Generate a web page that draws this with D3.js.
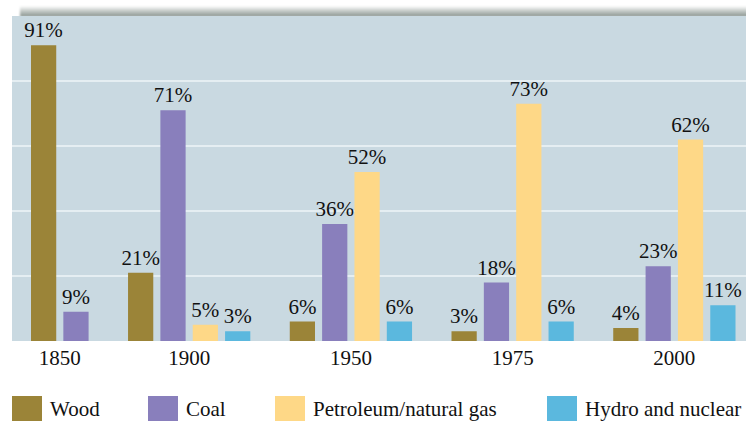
<!DOCTYPE html>
<html>
<head>
<meta charset="utf-8">
<script src="https://cdn.jsdelivr.net/npm/d3@7"></script>
<style>
  html, body { margin: 0; padding: 0; background: #ffffff; }
  svg { display: block; }
</style>
</head>
<body>
<svg id="chart" width="746" height="421"></svg>
<script>
// Share of U.S. energy consumption by source
const years = ["1850", "1900", "1950", "1975", "2000"];
const sources = ["Wood", "Coal", "Petroleum/natural gas", "Hydro and nuclear"];
const wood      = [91, 21, 6, 3, 4];
const coal      = [9, 71, 36, 18, 23];
const petroleum = [0, 5, 52, 73, 62];
const hydro     = [0, 3, 6, 6, 11];
const yTicks = [20, 40, 60, 80];
const colors = ["#9b8438", "#897fbc", "#fed887", "#5bb8de"];

const seriesValues = [wood, coal, petroleum, hydro];
const FONT = "'Liberation Serif', 'Times New Roman', Times, 'DejaVu Serif', serif";
const FONT_SIZE = 21;

const svg = d3.select("#chart").attr("font-family", FONT);
const W = 746, H = 421;
const plot = { left: 12, right: 746, top: 16, bottom: 341 };

// Bars: one slot per non-zero value, with an empty slot between year groups
const bars = [];
const slots = [];
years.forEach((yr, yi) => {
  if (yi > 0) slots.push("gap-" + yr);
  sources.forEach((s, si) => {
    const v = seriesValues[si][yi];
    if (v > 0) {
      const key = yr + "|" + s;
      slots.push(key);
      bars.push({ key, year: yr, source: s, si, value: v });
    }
  });
});

const x = d3.scaleBand()
  .domain(slots)
  .range([31, 735.5])
  .paddingInner(0.22)
  .paddingOuter(0);

const y = d3.scaleLinear().domain([0, 100]).range([plot.bottom, plot.top]);

// Soft grey band across the top of the panel
const defs = svg.append("defs");
const grad = defs.append("linearGradient").attr("id", "topShade")
  .attr("x1", 0).attr("y1", 0).attr("x2", 0).attr("y2", 1);
grad.append("stop").attr("offset", "0%").attr("stop-color", "#ffffff");
grad.append("stop").attr("offset", "45%").attr("stop-color", "#c3c9c6");
grad.append("stop").attr("offset", "100%").attr("stop-color", "#87928d");
defs.append("filter").attr("id", "soft").attr("x", "-5%").attr("width", "110%")
  .append("feGaussianBlur").attr("stdDeviation", 1.2);

svg.append("rect")
  .attr("x", 20).attr("y", 6).attr("width", W - 16).attr("height", 11)
  .attr("fill", "url(#topShade)")
  .attr("filter", "url(#soft)");

// Panel background
svg.append("rect")
  .attr("x", plot.left).attr("y", plot.top)
  .attr("width", plot.right - plot.left).attr("height", plot.bottom - plot.top)
  .attr("fill", "#c9d9e1");

// Gridlines
svg.append("g").selectAll("line").data(yTicks).join("line")
  .attr("x1", plot.left).attr("x2", plot.right)
  .attr("y1", d => y(d)).attr("y2", d => y(d))
  .attr("stroke", "#eef4f7").attr("stroke-width", 1.6);

// Bars
svg.append("g").selectAll("rect").data(bars).join("rect")
  .attr("x", d => x(d.key))
  .attr("y", d => y(d.value))
  .attr("width", x.bandwidth())
  .attr("height", d => y(0) - y(d.value))
  .attr("fill", d => colors[d.si]);

// Value labels
svg.append("g").selectAll("text").data(bars).join("text")
  .attr("x", d => x(d.key) + x.bandwidth() / 2)
  .attr("y", d => y(d.value) - 8)
  .attr("text-anchor", "middle")
  .attr("font-family", FONT)
  .attr("font-size", FONT_SIZE)
  .attr("fill", "#111")
  .text(d => d.value + "%");

// Year labels centred under each group
const groupCenter = yr => {
  const ks = bars.filter(b => b.year === yr).map(b => b.key);
  return (x(ks[0]) + x(ks[ks.length - 1]) + x.bandwidth()) / 2;
};
svg.append("g").selectAll("text").data(years).join("text")
  .attr("x", d => groupCenter(d))
  .attr("y", 365)
  .attr("text-anchor", "middle")
  .attr("font-family", FONT)
  .attr("font-size", FONT_SIZE)
  .attr("fill", "#111")
  .text(d => d);

// Legend
const legendX = [12, 148, 275, 547];
const lg = svg.append("g").selectAll("g").data(sources).join("g")
  .attr("transform", (d, i) => `translate(${legendX[i]},396)`);
lg.append("rect").attr("width", 30).attr("height", 25)
  .attr("fill", (d, i) => colors[i]);
lg.append("text").attr("x", 38).attr("y", 20)
  .attr("font-family", FONT)
  .attr("font-size", FONT_SIZE)
  .attr("fill", "#111")
  .text(d => d);
</script>
</body>
</html>
